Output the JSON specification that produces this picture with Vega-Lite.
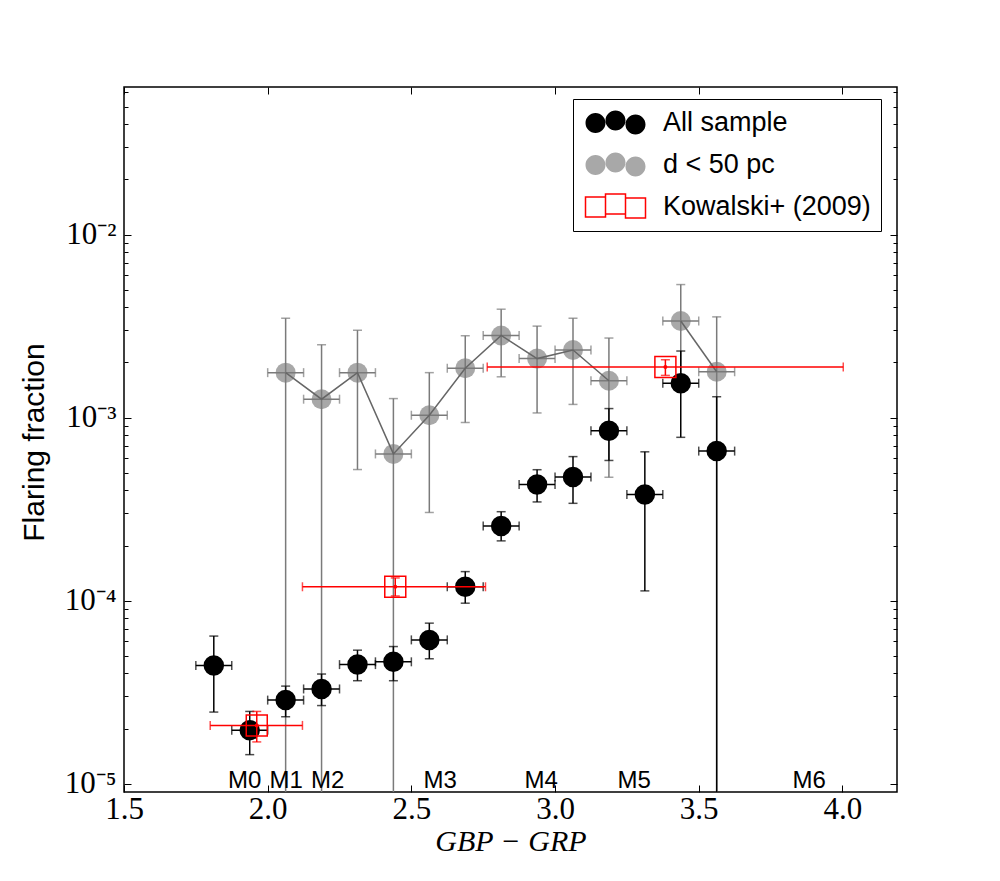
{
  "$schema": "https://vega.github.io/schema/vega-lite/v6.json",
  "width": 773,
  "height": 705,
  "autosize": "none",
  "padding": {"left": 124, "top": 87, "right": 103, "bottom": 89},
  "background": "white",
  "config": {
    "view": {"stroke": "#000", "strokeWidth": 1.5},
    "axis": {
      "domain": false, "grid": false,
      "tickColor": "#000", "tickWidth": 1,
      "labelFont": "Liberation Serif", "labelFontSize": 31, "labelColor": "#000",
      "titleColor": "#000", "labelOverlap": false, "labelFlush": false, "labelBound": false
    },
    "legend": {
      "orient": "none", "legendX": 449, "legendY": 12,
      "padding": 10, "strokeColor": "#000", "fillColor": "#fff", "cornerRadius": 0,
      "labelFont": "Liberation Sans", "labelFontSize": 27, "labelColor": "#000", "labelLimit": 400,
      "symbolSize": 400, "symbolOffset": 19, "labelOffset": 34, "rowPadding": 11,
      "symbolStrokeWidth": 1.5, "symbolOpacity": 1
    }
  },
  "datasets": {
    "all": [
      {"x": 1.8125, "y": 4.42e-5, "ylo": 2.46e-5, "yhi": 6.4e-5, "xlo": 1.75, "xhi": 1.875},
      {"x": 1.9375, "y": 1.96e-5, "ylo": 1.44e-5, "yhi": 2.48e-5, "xlo": 1.875, "xhi": 2.0},
      {"x": 2.0625, "y": 2.86e-5, "ylo": 2.32e-5, "yhi": 3.41e-5, "xlo": 2.0, "xhi": 2.125},
      {"x": 2.1875, "y": 3.29e-5, "ylo": 2.67e-5, "yhi": 3.97e-5, "xlo": 2.125, "xhi": 2.25},
      {"x": 2.3125, "y": 4.47e-5, "ylo": 3.65e-5, "yhi": 5.36e-5, "xlo": 2.25, "xhi": 2.375},
      {"x": 2.4375, "y": 4.63e-5, "ylo": 3.65e-5, "yhi": 5.61e-5, "xlo": 2.375, "xhi": 2.5},
      {"x": 2.5625, "y": 6.1e-5, "ylo": 4.81e-5, "yhi": 7.53e-5, "xlo": 2.5, "xhi": 2.625},
      {"x": 2.6875, "y": 1.19e-4, "ylo": 9.68e-5, "yhi": 1.44e-4, "xlo": 2.625, "xhi": 2.75},
      {"x": 2.8125, "y": 2.56e-4, "ylo": 2.12e-4, "yhi": 3.06e-4, "xlo": 2.75, "xhi": 2.875},
      {"x": 2.9375, "y": 4.31e-4, "ylo": 3.46e-4, "yhi": 5.19e-4, "xlo": 2.875, "xhi": 3.0},
      {"x": 3.0625, "y": 4.73e-4, "ylo": 3.40e-4, "yhi": 6.12e-4, "xlo": 3.0, "xhi": 3.125},
      {"x": 3.1875, "y": 8.46e-4, "ylo": 5.83e-4, "yhi": 1.12e-3, "xlo": 3.125, "xhi": 3.25},
      {"x": 3.3125, "y": 3.80e-4, "ylo": 1.13e-4, "yhi": 6.5e-4, "xlo": 3.25, "xhi": 3.375},
      {"x": 3.4375, "y": 1.54e-3, "ylo": 7.8e-4, "yhi": 2.31e-3, "xlo": 3.375, "xhi": 3.5},
      {"x": 3.5625, "y": 6.56e-4, "ylo": 1e-7, "yhi": 1.30e-3, "xlo": 3.5, "xhi": 3.625}
    ],
    "near": [
      {"x": 2.0625, "y": 1.76e-3, "ylo": 1e-7, "yhi": 3.49e-3, "xlo": 2.0, "xhi": 2.125, "seg": 1},
      {"x": 2.1875, "y": 1.26e-3, "ylo": 1e-7, "yhi": 2.50e-3, "xlo": 2.125, "xhi": 2.25, "seg": 1},
      {"x": 2.3125, "y": 1.76e-3, "ylo": 5.2e-4, "yhi": 3.0e-3, "xlo": 2.25, "xhi": 2.375, "seg": 1},
      {"x": 2.4375, "y": 6.33e-4, "ylo": 1e-7, "yhi": 1.27e-3, "xlo": 2.375, "xhi": 2.5, "seg": 1},
      {"x": 2.5625, "y": 1.03e-3, "ylo": 3.03e-4, "yhi": 1.76e-3, "xlo": 2.5, "xhi": 2.625, "seg": 1},
      {"x": 2.6875, "y": 1.86e-3, "ylo": 9.4e-4, "yhi": 2.8e-3, "xlo": 2.625, "xhi": 2.75, "seg": 1},
      {"x": 2.8125, "y": 2.81e-3, "ylo": 1.67e-3, "yhi": 3.91e-3, "xlo": 2.75, "xhi": 2.875, "seg": 1},
      {"x": 2.9375, "y": 2.10e-3, "ylo": 1.06e-3, "yhi": 3.16e-3, "xlo": 2.875, "xhi": 3.0, "seg": 1},
      {"x": 3.0625, "y": 2.34e-3, "ylo": 1.18e-3, "yhi": 3.49e-3, "xlo": 3.0, "xhi": 3.125, "seg": 1},
      {"x": 3.1875, "y": 1.59e-3, "ylo": 4.72e-4, "yhi": 2.72e-3, "xlo": 3.125, "xhi": 3.25, "seg": 1},
      {"x": 3.4375, "y": 3.37e-3, "ylo": 1.6e-3, "yhi": 5.33e-3, "xlo": 3.375, "xhi": 3.5, "seg": 2},
      {"x": 3.5625, "y": 1.78e-3, "ylo": 1e-7, "yhi": 3.55e-3, "xlo": 3.5, "xhi": 3.625, "seg": 2}
    ],
    "kowalski": [
      {"x": 1.962, "y": 2.08e-5, "ylo": 1.69e-5, "yhi": 2.48e-5, "xlo": 1.80, "xhi": 2.121},
      {"x": 2.444, "y": 1.19e-4, "ylo": 1.06e-4, "yhi": 1.33e-4, "xlo": 2.121, "xhi": 2.758},
      {"x": 3.384, "y": 1.89e-3, "ylo": 1.70e-3, "yhi": 2.07e-3, "xlo": 2.764, "xhi": 4.003}
    ],
    "series": [
      {"series": "All sample"},
      {"series": "d < 50 pc"},
      {"series": "Kowalski+ (2009)"}
    ],
    "mtypes": [
      {"sp": "M0", "x": 1.92},
      {"sp": "M1", "x": 2.064},
      {"sp": "M2", "x": 2.209},
      {"sp": "M3", "x": 2.60},
      {"sp": "M4", "x": 2.952},
      {"sp": "M5", "x": 3.275},
      {"sp": "M6", "x": 3.884}
    ]
  },
  "resolve": {"axis": {"x": "independent", "y": "independent"}},
  "layer": [
    {
      "layer": [
        {
          "data": {"name": "near"},
          "mark": {"type": "point", "filled": true, "shape": "circle", "size": 400, "color": "#a8a8a8", "opacity": 1},
          "encoding": {
            "x": {
              "field": "x", "type": "quantitative", "title": "GBP − GRP",
              "scale": {"domain": [1.5, 4.19], "nice": false, "zero": false},
              "axis": {
                "orient": "bottom", "values": [1.5, 2.0, 2.5, 3.0, 3.5, 4.0], "format": ".1f",
                "tickSize": -7, "labelPadding": 9,
                "titleFont": "Liberation Serif", "titleFontStyle": "italic",
                "titleFontSize": 30, "titleFontWeight": "normal",
                "titleX": 386.5, "titleY": 58, "titleAlign": "center", "titleBaseline": "alphabetic"
              }
            },
            "y": {
              "field": "y", "type": "quantitative", "title": "Flaring fraction",
              "scale": {"type": "log", "domain": [0.000009, 0.064], "nice": false},
              "axis": {
                "orient": "left",
                "values": [0.00001, 0.0001, 0.001, 0.01],
                "labelExpr": "datum.value === 0.00001 ? '10⁻⁵' : datum.value === 0.0001 ? '10⁻⁴' : datum.value === 0.001 ? '10⁻³' : '10⁻²'",
                "tickSize": -7, "labelPadding": 15,
                "titleFont": "Liberation Sans", "titleFontSize": 30,
                "titleFontWeight": "normal", "titleAngle": -90, "titleX": -81, "titleY": 355,
                "titleAlign": "center", "titleBaseline": "alphabetic"
              }
            }
          }
        },
        {
          "data": {"name": "near"},
          "mark": {"type": "errorbar", "color": "#7a7a7a", "thickness": 1.5, "ticks": {"size": 9}, "clip": true},
          "encoding": {
            "x": {"field": "x", "type": "quantitative", "title": "GBP − GRP"},
            "y": {"field": "ylo", "type": "quantitative", "title": "Flaring fraction"},
            "y2": {"field": "yhi"}
          }
        },
        {
          "data": {"name": "near"},
          "mark": {"type": "errorbar", "color": "#7a7a7a", "thickness": 1.5, "ticks": {"size": 9}},
          "encoding": {
            "y": {"field": "y", "type": "quantitative", "title": "Flaring fraction"},
            "x": {"field": "xlo", "type": "quantitative", "title": "GBP − GRP"},
            "x2": {"field": "xhi"}
          }
        },
        {
          "data": {"name": "near"},
          "mark": {"type": "line", "color": "#666666", "strokeWidth": 1.5},
          "encoding": {
            "x": {"field": "x", "type": "quantitative", "title": "GBP − GRP"},
            "y": {"field": "y", "type": "quantitative", "title": "Flaring fraction"},
            "detail": {"field": "seg", "type": "nominal"}
          }
        },
        {
          "data": {"name": "all"},
          "mark": {"type": "point", "filled": true, "shape": "circle", "size": 420, "color": "#000000", "opacity": 1},
          "encoding": {
            "x": {"field": "x", "type": "quantitative", "title": "GBP − GRP"},
            "y": {"field": "y", "type": "quantitative", "title": "Flaring fraction"}
          }
        },
        {
          "data": {"name": "all"},
          "mark": {"type": "errorbar", "color": "#000000", "thickness": 1.5, "ticks": {"size": 9}, "clip": true},
          "encoding": {
            "x": {"field": "x", "type": "quantitative", "title": "GBP − GRP"},
            "y": {"field": "ylo", "type": "quantitative", "title": "Flaring fraction"},
            "y2": {"field": "yhi"}
          }
        },
        {
          "data": {"name": "all"},
          "mark": {"type": "errorbar", "color": "#000000", "thickness": 1.5, "ticks": {"size": 9}},
          "encoding": {
            "y": {"field": "y", "type": "quantitative", "title": "Flaring fraction"},
            "x": {"field": "xlo", "type": "quantitative", "title": "GBP − GRP"},
            "x2": {"field": "xhi"}
          }
        },
        {
          "data": {"name": "kowalski"},
          "mark": {"type": "point", "filled": false, "shape": "square", "size": 441, "strokeWidth": 1.5, "color": "#ff0000", "opacity": 1},
          "encoding": {
            "x": {"field": "x", "type": "quantitative", "title": "GBP − GRP"},
            "y": {"field": "y", "type": "quantitative", "title": "Flaring fraction"}
          }
        },
        {
          "data": {"name": "kowalski"},
          "mark": {"type": "errorbar", "color": "#ff0000", "thickness": 1.5, "ticks": {"size": 9}},
          "encoding": {
            "x": {"field": "x", "type": "quantitative", "title": "GBP − GRP"},
            "y": {"field": "ylo", "type": "quantitative", "title": "Flaring fraction"},
            "y2": {"field": "yhi"}
          }
        },
        {
          "data": {"name": "kowalski"},
          "mark": {"type": "errorbar", "color": "#ff0000", "thickness": 1.5, "ticks": {"size": 9}},
          "encoding": {
            "y": {"field": "y", "type": "quantitative", "title": "Flaring fraction"},
            "x": {"field": "xlo", "type": "quantitative", "title": "GBP − GRP"},
            "x2": {"field": "xhi"}
          }
        },
        {
          "data": {"name": "kowalski"},
          "mark": {"type": "point", "filled": true, "shape": "circle", "size": 16, "color": "#ff0000", "opacity": 1},
          "encoding": {
            "x": {"field": "x", "type": "quantitative", "title": "GBP − GRP"},
            "y": {"field": "y", "type": "quantitative", "title": "Flaring fraction"}
          }
        },
        {
          "data": {"name": "mtypes"},
          "mark": {"type": "text", "font": "Liberation Sans", "fontSize": 24, "align": "center", "baseline": "alphabetic", "color": "#000"},
          "encoding": {
            "x": {"field": "x", "type": "quantitative", "title": "GBP − GRP"},
            "y": {"datum": 0.00000947, "type": "quantitative", "title": "Flaring fraction"},
            "text": {"field": "sp"}
          }
        },
        {
          "data": {"name": "series"},
          "mark": {"type": "point", "size": 400, "strokeWidth": 1.5, "opacity": 1, "clip": true},
          "encoding": {
            "x": {"datum": 1.0, "type": "quantitative", "title": "GBP − GRP"},
            "y": {"datum": 0.001, "type": "quantitative", "title": "Flaring fraction"},
            "fill": {
              "field": "series", "type": "nominal",
              "scale": {"domain": ["All sample", "d < 50 pc", "Kowalski+ (2009)"], "range": ["#000000", "#a8a8a8", "transparent"]},
              "legend": {"title": null}
            },
            "stroke": {
              "field": "series", "type": "nominal",
              "scale": {"domain": ["All sample", "d < 50 pc", "Kowalski+ (2009)"], "range": ["transparent", "transparent", "#ff0000"]},
              "legend": {"title": null}
            },
            "shape": {
              "field": "series", "type": "nominal",
              "scale": {
                "domain": ["All sample", "d < 50 pc", "Kowalski+ (2009)"],
                "range": [
                  "M-3,0.05a1,1 0 1,0 2,0a1,1 0 1,0 -2,0Z M-1,-0.2a1,1 0 1,0 2,0a1,1 0 1,0 -2,0Z M1,0.2a1,1 0 1,0 2,0a1,1 0 1,0 -2,0Z",
                  "M-3,0.05a1,1 0 1,0 2,0a1,1 0 1,0 -2,0Z M-1,-0.2a1,1 0 1,0 2,0a1,1 0 1,0 -2,0Z M1,0.2a1,1 0 1,0 2,0a1,1 0 1,0 -2,0Z",
                  "M-3,-0.95h2v2h-2Z M-1,-1.25h2v2h-2Z M1,-0.85h2v2h-2Z"
                ]
              },
              "legend": {"title": null}
            }
          }
        }
      ]
    },
    {
      "data": {"name": "all"},
      "mark": {"type": "point", "opacity": 0},
      "encoding": {
        "x": {
          "field": "x", "type": "quantitative",
          "axis": {"orient": "top", "values": [1.5, 2.0, 2.5, 3.0, 3.5, 4.0], "labels": false, "title": null, "tickSize": -7}
        },
        "y": {
          "field": "y", "type": "quantitative",
          "axis": {"orient": "right", "values": [0.00001, 0.0001, 0.001, 0.01], "labels": false, "title": null, "tickSize": -7}
        }
      }
    },
    {
      "data": {"name": "all"},
      "mark": {"type": "point", "opacity": 0},
      "encoding": {
        "x": {"field": "x", "type": "quantitative", "axis": null},
        "y": {
          "field": "y", "type": "quantitative",
          "axis": {
            "orient": "left", "labels": false, "title": null, "tickSize": -4,
            "values": [0.00002, 0.00003, 0.00004, 0.00005, 0.00006, 0.00007, 0.00008, 0.00009,
                       0.0002, 0.0003, 0.0004, 0.0005, 0.0006, 0.0007, 0.0008, 0.0009,
                       0.002, 0.003, 0.004, 0.005, 0.006, 0.007, 0.008, 0.009,
                       0.02, 0.03, 0.04, 0.05, 0.06]
          }
        }
      }
    },
    {
      "data": {"name": "all"},
      "mark": {"type": "point", "opacity": 0},
      "encoding": {
        "x": {"field": "x", "type": "quantitative", "axis": null},
        "y": {
          "field": "y", "type": "quantitative",
          "axis": {
            "orient": "right", "labels": false, "title": null, "tickSize": -4,
            "values": [0.00002, 0.00003, 0.00004, 0.00005, 0.00006, 0.00007, 0.00008, 0.00009,
                       0.0002, 0.0003, 0.0004, 0.0005, 0.0006, 0.0007, 0.0008, 0.0009,
                       0.002, 0.003, 0.004, 0.005, 0.006, 0.007, 0.008, 0.009,
                       0.02, 0.03, 0.04, 0.05, 0.06]
          }
        }
      }
    }
  ]
}
